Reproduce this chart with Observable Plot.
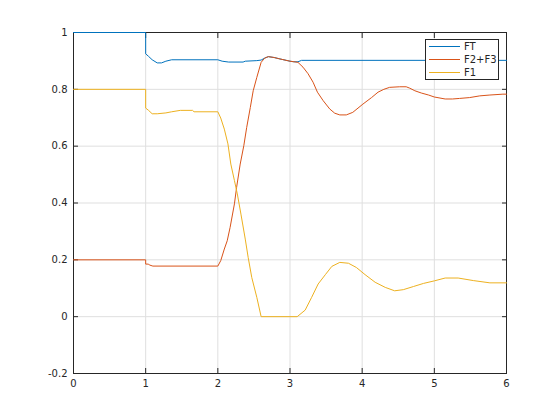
<!DOCTYPE html>
<html>
<head>
<meta charset="utf-8">
<script src="https://cdn.jsdelivr.net/npm/d3@7"></script>
<script src="https://cdn.jsdelivr.net/npm/@observablehq/plot@0.6"></script>
<style>
  html, body { margin: 0; padding: 0; background: #fff; }
</style>
</head>
<body>
<div id="chart"></div>
<script>
const seriesNames = ["FT", "F2+F3", "F1"];
const seriesColors = ["#0072BD", "#D95319", "#EDB120"];
const xTicks = [0, 1, 2, 3, 4, 5, 6];
const yTicks = [-0.2, 0, 0.2, 0.4, 0.6, 0.8, 1];

const ftX = [0, 1, 1, 1.04, 1.09, 1.16, 1.22, 1.28, 1.36, 2.0, 2.06, 2.15, 2.35, 2.38, 2.54, 2.60, 2.65, 2.70, 2.78, 2.86, 3.0, 3.05, 3.11, 3.16, 6.0];
const ftY = [1, 1, 0.925, 0.916, 0.904, 0.893, 0.893, 0.899, 0.904, 0.904, 0.899, 0.896, 0.896, 0.899, 0.901, 0.903, 0.910, 0.915, 0.912, 0.907, 0.899, 0.897, 0.897, 0.902, 0.902];

const f23X = [0, 1, 1, 1.04, 1.05, 1.1, 2.0, 2.04, 2.09, 2.13, 2.17, 2.23, 2.26, 2.31, 2.36, 2.40, 2.45, 2.49, 2.54, 2.60, 2.65, 2.70, 2.78, 2.86, 3.0, 3.11, 3.18, 3.25, 3.32, 3.38, 3.46, 3.55, 3.62, 3.69, 3.78, 3.87, 4.01, 4.13, 4.22, 4.30, 4.38, 4.52, 4.61, 4.66, 4.73, 4.82, 4.92, 5.0, 5.15, 5.25, 5.35, 5.49, 5.63, 5.77, 5.95, 6.0];
const f23Y = [0.2, 0.2, 0.185, 0.185, 0.182, 0.178, 0.178, 0.197, 0.238, 0.267, 0.314, 0.397, 0.455, 0.537, 0.602, 0.666, 0.736, 0.795, 0.842, 0.895, 0.910, 0.915, 0.912, 0.907, 0.899, 0.895, 0.878, 0.855, 0.825, 0.790, 0.760, 0.731, 0.716, 0.710, 0.710, 0.719, 0.748, 0.771, 0.790, 0.800, 0.807, 0.809, 0.809, 0.804, 0.795, 0.787, 0.780, 0.773, 0.766, 0.766, 0.768, 0.771, 0.777, 0.780, 0.783, 0.783];

const f1X = [0, 1, 1, 1.04, 1.09, 1.16, 1.28, 1.36, 1.48, 1.65, 1.67, 2.0, 2.04, 2.09, 2.14, 2.18, 2.23, 2.27, 2.32, 2.38, 2.42, 2.47, 2.54, 2.60, 3.10, 3.21, 3.30, 3.39, 3.49, 3.58, 3.69, 3.81, 3.92, 4.04, 4.18, 4.32, 4.45, 4.57, 4.71, 4.85, 5.0, 5.15, 5.33, 5.54, 5.77, 6.0];
const f1Y = [0.8, 0.8, 0.734, 0.726, 0.714, 0.714, 0.717, 0.721, 0.726, 0.726, 0.721, 0.721, 0.699, 0.660, 0.608, 0.537, 0.479, 0.432, 0.361, 0.273, 0.209, 0.138, 0.068, 0, 0, 0.023, 0.068, 0.115, 0.148, 0.177, 0.191, 0.188, 0.173, 0.148, 0.121, 0.103, 0.091, 0.095, 0.106, 0.117, 0.126, 0.136, 0.136, 0.127, 0.119, 0.119];

const toRows = (xs, ys) => xs.map((x, i) => ({x, y: ys[i]}));
const ft = toRows(ftX, ftY);
const f23 = toRows(f23X, f23Y);
const f1 = toRows(f1X, f1Y);

const fmt = d => d === 0 ? "0" : String(+d.toFixed(1));
const blank = () => "";
const axisColor = "#262626";
const gridColor = "#dfdfdf";

const svg = Plot.plot({
  width: 560,
  height: 420,
  marginLeft: 73,
  marginRight: 54,
  marginTop: 32,
  marginBottom: 47,
  style: {fontFamily: "DejaVu Sans", fontSize: "10px", color: axisColor, background: "#fff"},
  x: {domain: [0, 6]},
  y: {domain: [-0.2, 1]},
  marks: [
    Plot.gridX(xTicks, {stroke: gridColor, strokeOpacity: 1}),
    Plot.gridY(yTicks, {stroke: gridColor, strokeOpacity: 1}),
    Plot.frame({stroke: axisColor}),
    Plot.axisX(xTicks, {anchor: "bottom", tickSize: -5, tickPadding: 11, tickFormat: fmt, label: null, stroke: axisColor}),
    Plot.axisX(xTicks, {anchor: "top", tickSize: -5, tickFormat: blank, label: null, stroke: axisColor}),
    Plot.axisY(yTicks, {anchor: "left", tickSize: -5, tickPadding: 11, tickFormat: fmt, label: null, stroke: axisColor}),
    Plot.axisY(yTicks, {anchor: "right", tickSize: -5, tickFormat: blank, label: null, stroke: axisColor}),
    Plot.line(ft, {x: "x", y: "y", stroke: seriesColors[0], strokeWidth: 1}),
    Plot.line(f23, {x: "x", y: "y", stroke: seriesColors[1], strokeWidth: 1}),
    Plot.line(f1, {x: "x", y: "y", stroke: seriesColors[2], strokeWidth: 1})
  ]
});

// Legend inside the plot, top-right
const lg = d3.select(svg).append("g").attr("class", "legend")
  .attr("font-family", "DejaVu Sans").attr("font-size", 10)
  .attr("text-anchor", "start");
lg.append("rect")
  .attr("x", 425.5).attr("y", 39.5).attr("width", 73).attr("height", 40)
  .attr("fill", "#fff").attr("stroke", axisColor).attr("stroke-width", 1);
seriesNames.forEach((name, i) => {
  const cy = 46.5 + i * 13;
  lg.append("line").attr("x1", 429).attr("x2", 460).attr("y1", cy).attr("y2", cy)
    .attr("stroke", seriesColors[i]).attr("stroke-width", 1);
  lg.append("text").attr("x", 464).attr("y", cy).attr("dy", "0.35em")
    .attr("text-anchor", "start")
    .attr("fill", axisColor).text(name);
});

document.getElementById("chart").appendChild(svg);
</script>
</body>
</html>
